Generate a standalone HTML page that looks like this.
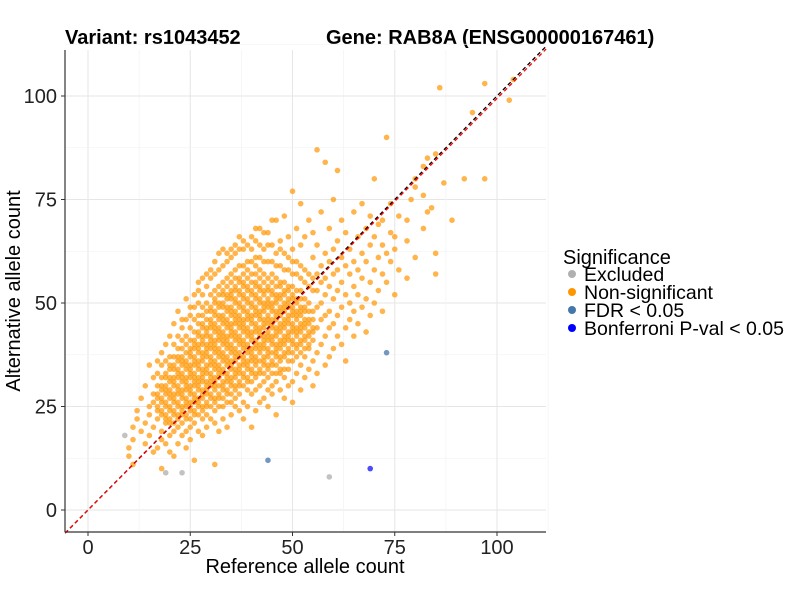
<!DOCTYPE html>
<html><head><meta charset="utf-8"><style>
body{margin:0;background:#fff;}
svg{font-family:"Liberation Sans",Arial,sans-serif;}
</style></head><body>
<svg id="chart" width="800" height="600">
<text x="65" y="44" font-size="20" font-weight="bold">Variant: rs1043452</text>
<text x="326" y="44" font-size="20" font-weight="bold">Gene: RAB8A (ENSG00000167461)</text>
<g id="grid"></g>
<g id="points"></g>
<g id="lines"></g>
<line x1="65" y1="50" x2="65" y2="532" stroke="#333" stroke-width="1.2"/>
<line x1="65" y1="532" x2="546" y2="532" stroke="#333" stroke-width="1.2"/>
<g id="ticks"></g>
<text x="305" y="573" font-size="20" text-anchor="middle">Reference allele count</text>
<text transform="translate(20,291) rotate(-90)" font-size="20" text-anchor="middle">Alternative allele count</text>
<g>
<text x="563" y="264" font-size="20">Significance</text>
<g><circle cx="572" cy="274" r="4" fill="#b0b0b0"/><text x="584" y="281" font-size="19.5">Excluded</text></g>
<g><circle cx="572" cy="292" r="4" fill="#ff9500"/><text x="584" y="299" font-size="19.5">Non-significant</text></g>
<g><circle cx="572" cy="310" r="4" fill="#4477aa"/><text x="584" y="317" font-size="19.5">FDR &lt; 0.05</text></g>
<g><circle cx="572" cy="328" r="4" fill="#0000ff"/><text x="584" y="335" font-size="19.5">Bonferroni P-val &lt; 0.05</text></g>
</g>
</svg>
<script>
const ticks=[0,25,50,75,100];
// dense core: [x, lowest y, highest y]
const denseCols=[[17,24,30],[18,23,32],[19,22,33],[20,21,35],[21,21,37],[22,22,39],[23,21,41],[24,22,42],[25,22,44],[26,23,46],[27,23,47],[28,24,49],[29,25,50],[30,25,52],[31,26,53],[32,27,54],[33,27,55],[34,28,56],[35,28,57],[36,29,58],[37,30,59],[38,30,59],[39,31,60],[40,31,60],[41,32,61],[42,33,61],[43,33,60],[44,34,60],[45,35,60],[46,35,59],[47,36,59],[48,37,58],[49,38,58],[50,38,57],[51,39,57],[52,40,56],[53,41,55],[54,42,54],[55,43,53]];
// empty counts inside the dense core
const holes=[[17,[26,29]],[18,[25,28,31]],[19,[24,27,31]],[20,[23,26,30,33]],[21,[22,25,29,33,36]],[22,[24,27,31,35,38]],[23,[22,26,30,34,38,40]],[24,[24,28,33,37,39,41]],[25,[23,27,31,36,40,42,43]],[26,[25,29,34,38,42,44,45]],[27,[24,28,33,37,41,44,46]],[28,[26,30,35,39,43,46,48]],[29,[27,32,36,41,45,47,49]],[30,[26,29,34,38,43,47,50,51]],[31,[28,33,37,42,46,49,52]],[32,[29,31,36,40,45,48,51,53]],[33,[28,32,35,39,44,48,51,54]],[34,[30,34,38,43,47,50,53,55]],[35,[29,33,37,41,46,50,54,56]],[36,[31,35,40,44,49,52,55,57]],[37,[32,36,39,43,48,51,54,57,58]],[38,[31,34,38,42,47,50,53,56,58]],[39,[33,37,41,45,49,52,55,57,59]],[40,[32,35,40,44,48,51,54,56,58,59]],[41,[34,38,42,46,50,53,56,58,60]],[42,[35,37,41,45,49,52,55,57,59,60]],[43,[34,38,43,47,51,54,56,58,59]],[44,[36,40,44,48,52,55,57,58,59]],[45,[37,39,43,47,51,54,56,58,59]],[46,[36,41,45,49,53,55,57,58]],[47,[38,42,46,50,53,56,57,58]],[48,[39,43,47,51,54,56,57]],[49,[40,44,48,52,55,56,57]],[50,[39,42,46,50,53,55,56]],[51,[41,45,49,52,54,55,56]],[52,[42,46,50,52,54,55]],[53,[43,47,50,52,53,54]],[54,[44,47,49,51,52,53]],[55,[45,47,49,50,51,52]]];
const nonSig=[[10,[13,15]],[11,[11,17,20]],[12,[22,24]],[13,[19,27]],[14,[16,21,30]],[15,[18,23,25,35]],[16,[14,20,26,28,32]],[17,[15,22,33,36]],[18,[10,17,19,35,38]],[19,[16,21,36,40]],[20,[14,18,37,42]],[21,[13,19,40,45]],[22,[16,20,42,48]],[23,[18,44,46]],[24,[15,19,46,51]],[25,[17,20,47,49]],[26,[12,21,49,52]],[27,[19,50,53,55]],[28,[18,22,52,56]],[29,[20,23,54,57]],[30,[22,56,58]],[31,[11,21,24,57,60]],[32,[19,25,58,62]],[33,[22,25,59,63]],[34,[20,26,60,62]],[35,[23,26,61,63]],[36,[25,27,62,64]],[37,[24,28,63,66]],[38,[22,26,63,65]],[39,[25,29,64]],[40,[20,28,63,66]],[41,[24,29,65,68]],[42,[26,30,64,68]],[43,[27,31,63,67]],[44,[25,29,32,64,67]],[45,[28,30,33,64,70]],[46,[23,31,33,62,70]],[47,[29,33,34,63,65]],[48,[27,32,34,62,71]],[49,[30,34,36,61,66]],[50,[26,31,36,60,63,77]],[51,[33,37,60,68]],[52,[29,35,38,59,64,74]],[53,[32,37,39,58,66]],[54,[34,39,40,57,70]],[55,[30,36,41,56,61,67]],[56,[33,38,44,49,53,57,64,87]],[57,[40,46,50,55,59,72]],[58,[35,42,47,52,56,62,84]],[59,[37,44,48,54,60,68]],[60,[39,45,51,57,63,75]],[61,[42,47,53,58,65,82]],[62,[40,49,55,61,70]],[63,[36,44,52,59,67]],[64,[46,50,57,63]],[65,[42,48,54,60,72]],[66,[45,52,58,66]],[67,[49,56,62,74]],[68,[43,51,60,68]],[69,[47,55,64,71]],[70,[50,58,66,80]],[71,[53,61,69]],[72,[48,57,64,70]],[73,[55,62,90]],[74,[60,67,74]],[75,[52,63,66]],[76,[58,71]],[78,[56,65,70]],[79,[75]],[80,[61,78,80]],[82,[68,76,83]],[83,[72,85]],[84,[73]],[85,[57,62,86]],[86,[102]],[87,[79]],[89,[70]],[92,[80]],[94,[96]],[97,[80,103]],[103,[99]],[104,[104]]];
const excluded=[[9,18],[19,9],[23,9],[59,8]];
const fdr=[[44,12],[73,38]];
const bonf=[[69,10]];
const refSlope=[1.0,0.994];

const X0=88,XS=4.09,Y0=510,YS=4.14;
const sx=v=>X0+v*XS, sy=v=>Y0-v*YS;
const NS="http://www.w3.org/2000/svg";
function mk(tag,attrs,parent){const e=document.createElementNS(NS,tag);for(const k in attrs)e.setAttribute(k,attrs[k]);parent.appendChild(e);return e;}
const grid=document.getElementById('grid'),pts=document.getElementById('points'),tk=document.getElementById('ticks'),ln=document.getElementById('lines');
for(let i=0;i<ticks.length;i++){
  const t=ticks[i];
  const gx=mk('line',{x1:sx(t),x2:sx(t),y1:50,y2:532,stroke:'#e6e6e6','stroke-width':1},grid);
  
  
  const gy=mk('line',{x1:65,x2:546,y1:sy(t),y2:sy(t),stroke:'#e6e6e6','stroke-width':1},grid);
  
  
  const m=t+12.5;
  const mx=mk('line',{x1:sx(m),x2:sx(m),y1:50,y2:532,stroke:'#f3f3f3','stroke-width':0.8},grid);
  
  
  const my=mk('line',{x1:65,x2:546,y1:sy(m),y2:sy(m),stroke:'#f3f3f3','stroke-width':0.8},grid);
  
  
  const xt=mk('text',{x:sx(t),y:554,'font-size':20,'text-anchor':'middle',fill:'#222'},tk);xt.textContent=t;
  
  
  mk('line',{x1:sx(t),x2:sx(t),y1:532,y2:536,stroke:'#333'},tk);
  const yt=mk('text',{x:57,y:sy(t)+7,'font-size':20,'text-anchor':'end',fill:'#222'},tk);yt.textContent=t;
  
  
  mk('line',{x1:61,x2:65,y1:sy(t),y2:sy(t),stroke:'#333'},tk);
}
const xmin=-5.6,xmax=112;
const colors=['#000','#ff0000'];
refSlope.forEach((s,i)=>{
  const l=mk('line',{x1:sx(xmin),y1:sy(xmin*s),x2:sx(xmax),y2:sy(xmax*s),stroke:colors[i],'stroke-width':1.3,'stroke-dasharray':'4,3'},ln);
  
  
});
function dot(x,y,fill,name){
  const c=mk('circle',{cx:sx(x),cy:sy(y),r:2.8,fill:fill,'fill-opacity':0.7},pts);
  
  
}
const holeMap={};
holes.forEach(([x,ys])=>{holeMap[x]=new Set(ys);});
denseCols.forEach(([x,lo,hi])=>{for(let y=lo;y<=hi;y++){if(holeMap[x]&&holeMap[x].has(y))continue;dot(x,y,'#ff9500','point-non-significant');}});
nonSig.forEach(([x,ys])=>ys.forEach(y=>dot(x,y,'#ff9500','point-non-significant')));
excluded.forEach(([x,y])=>dot(x,y,'#a8a8a8','point-excluded'));
fdr.forEach(([x,y])=>dot(x,y,'#3a6aa8','point-fdr'));
bonf.forEach(([x,y])=>dot(x,y,'#0000ff','point-bonferroni'));
</script>
</body></html>
